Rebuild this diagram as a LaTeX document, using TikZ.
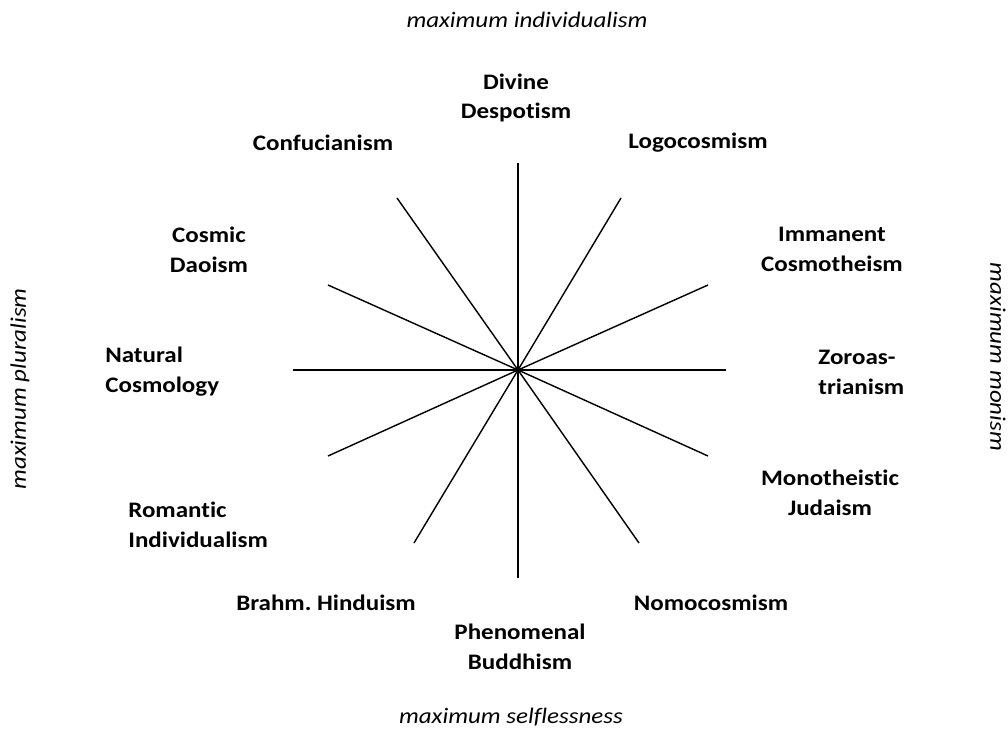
\documentclass[tikz,border=0pt]{standalone}
\usepackage{fontspec}
\setmainfont{Carlito}[FakeStretch=1.13, Ligatures=NoCommon]
\frenchspacing
\usetikzlibrary{positioning}

\begin{document}
\begin{tikzpicture}[
    x=0.02cm, y=-0.02cm,
    spoke/.style={line width=0.8pt},
    school/.style={font=\bfseries\fontsize{12.6}{17}\selectfont, align=center, inner sep=0pt},
    pole/.style={font=\itshape\fontsize{12.6}{17}\selectfont, inner sep=0pt}
]
\useasboundingbox (0,0) rectangle (1008,734);
% centre and spoke ends
\coordinate (c) at (518,370);
\foreach \n/\x/\y in {top/518/163, bot/518/578, lft/293/370, rgt/726/370,
    ua/621/198, ub/397/198, uc/708/285, ud/328/285,
    la/708/456, lb/328/456, lc/639/543, ld/414/543}
    \coordinate (\n) at (\x,\y);
\foreach \n in {top,bot,lft,rgt,ua,ub,uc,ud,la,lb,lc,ld}
    \draw[spoke] (c) -- (\n);
% schools of thought
\node[school] (divine) at (516,98) {Divine\\Despotism};
\node[school] (confuc) at (323,143) {Confucianism};
\node[school] (logo) at (698,143) {Logocosmism};
\node[school] (dao) at (209,250) {Cosmic\\Daoism};
\node[school] (immanent) at (832,249) {Immanent\\Cosmotheism};
\node[school, align=left, anchor=west] (natural) at (105,372) {Natural\\Cosmology};
\node[school, align=left, anchor=west] (zoro) at (818,372) {Zoroas-\\trianism};
\node[school, align=left, anchor=west] (romantic) at (128,525) {Romantic\\Individualism};
\node[school] (judaism) at (830,493) {Monotheistic\\Judaism};
\node[school] (hindu) at (326,603) {Brahm. Hinduism};
\node[school] (nomo) at (711,603) {Nomocosmism};
\node[school] (buddh) at (520,647) {Phenomenal\\Buddhism};
% poles
\node[pole] (indiv) at (527,20) {maximum individualism};
\node[pole] (selfless) at (511,717) {maximum selflessness};
\node[pole, rotate=90] (plural) at (20,389) {maximum pluralism};
\node[pole, rotate=-90] (monism) at (998,357) {maximum monism};
\end{tikzpicture}
\end{document}
